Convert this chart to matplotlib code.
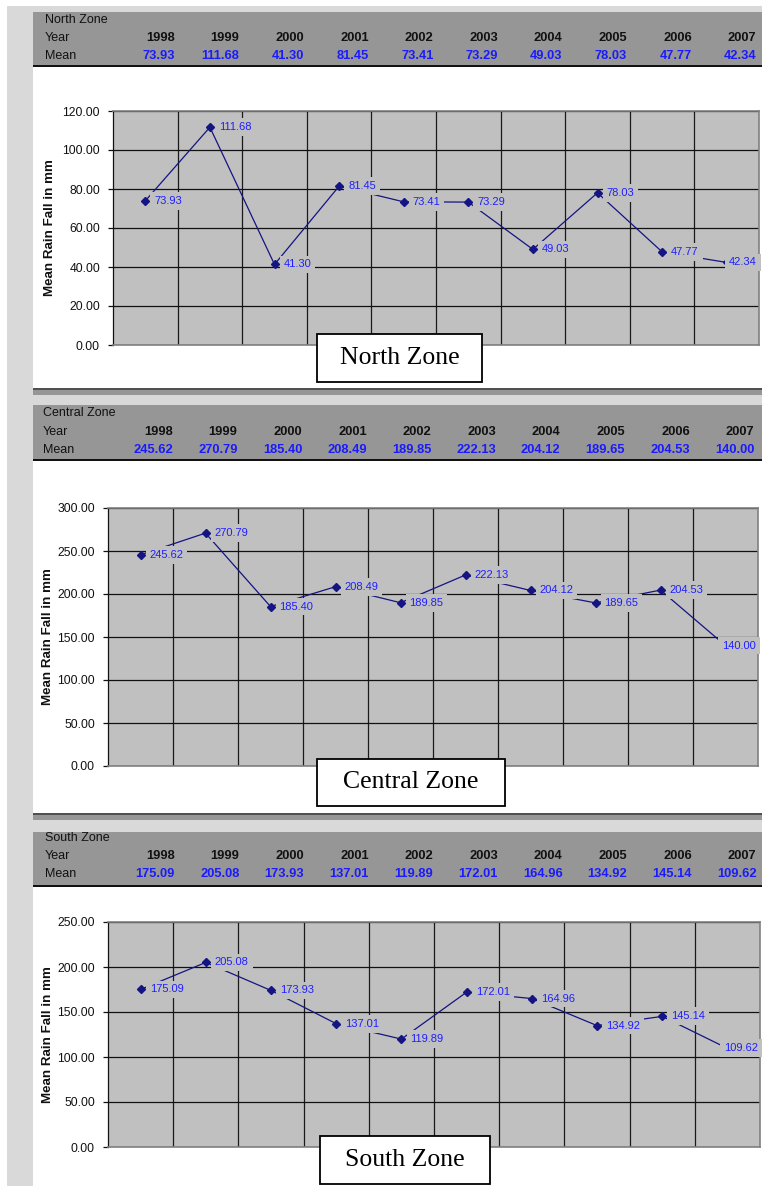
"""
Mean rainfall per zone, 1998-2007: a header strip with the yearly means
above a line chart for each of the North, Central and South zones.
"""
import matplotlib
matplotlib.use("Agg")
import matplotlib.pyplot as plt
from matplotlib.patches import Rectangle
from matplotlib.ticker import FixedLocator, MultipleLocator

plt.rcParams["font.family"] = ["Liberation Sans", "DejaVu Sans"]

# ── Data ──────────────────────────────────────────────────────────────────────

years = ["1998", "1999", "2000", "2001", "2002",
         "2003", "2004", "2005", "2006", "2007"]

north_mean   = [73.93, 111.68, 41.30, 81.45, 73.41, 73.29, 49.03, 78.03, 47.77, 42.34]
central_mean = [245.62, 270.79, 185.40, 208.49, 189.85, 222.13, 204.12, 189.65, 204.53, 140.00]
south_mean   = [175.09, 205.08, 173.93, 137.01, 119.89, 172.01, 164.96, 134.92, 145.14, 109.62]

zone_names = ["North Zone", "Central Zone", "South Zone"]

# ── Layout (pixels of the 762 x 1186 picture) ─────────────────────────────────

W, H = 762, 1186
DPI  = 100

PANEL_BG   = "#c0c0c0"
HEADER_BG  = "#969696"
STRIP_BG   = "#d9d9d9"
LINE_COL   = "#141482"
LABEL_COL  = "#1f1fff"

# header top, text rows, header line, axes box, y range/step, title box, ylabel x
PANELS = [
    dict(top=12,  rows=(20, 38, 56),    line=66,  name_x=45, col0=175,
         ax=(113, 759, 111, 345),  ymax=120, step=20,
         box=(317, 482, 334, 382), ylab_x=50),
    dict(top=405, rows=(413, 432, 450), line=460, name_x=43, col0=173,
         ax=(108, 758, 508, 766),  ymax=300, step=50,
         box=(317, 505, 759, 806), ylab_x=48),
    dict(top=832, rows=(838, 856, 874), line=886, name_x=45, col0=175,
         ax=(108, 760, 922, 1147), ymax=250, step=50,
         box=(320, 490, 1136, 1184), ylab_x=48),
]
COL_STEP = 64.6
SEPARATORS = [388, 813]


def fx(x):
    return x / W


def fy(y):
    return 1 - y / H


def rect(fig, x0, x1, y0, y1, **kw):
    fig.patches.append(Rectangle((fx(x0), fy(y1)), fx(x1) - fx(x0), fy(y0) - fy(y1),
                                 transform=fig.transFigure, **kw))


# ── Drawing ───────────────────────────────────────────────────────────────────

def draw_background(fig):
    rect(fig, 7, 33, 6, H, color=STRIP_BG, lw=0)
    rect(fig, 7, W, 6, 12, color=STRIP_BG, lw=0)
    for y in SEPARATORS:
        rect(fig, 33, W, y, y + 2, color="#505050", lw=0)
        rect(fig, 33, W, y + 2, y + 7, color=HEADER_BG, lw=0)
        rect(fig, 33, W, y + 7, y + 19, color=STRIP_BG, lw=0)


def draw_header(fig, p, name, values):
    rect(fig, 33, W, p["top"], p["line"], color=HEADER_BG, lw=0)
    rect(fig, 33, W, p["line"] - 1, p["line"] + 1, color="#111111", lw=0)

    r0, r1, r2 = p["rows"]
    fig.text(fx(p["name_x"]), fy(r0), name, fontsize=9, va="center", color="#111111")
    fig.text(fx(p["name_x"]), fy(r1), "Year", fontsize=9, va="center", color="#111111")
    fig.text(fx(p["name_x"]), fy(r2), "Mean", fontsize=9, va="center", color="#111111")
    for i, (yr, v) in enumerate(zip(years, values)):
        x = fx(p["col0"] + i * COL_STEP)
        fig.text(x, fy(r1), yr, fontsize=9.3, fontweight="bold", ha="right",
                 va="center", color="#111111")
        fig.text(x, fy(r2), f"{v:.2f}", fontsize=9.3, fontweight="bold", ha="right",
                 va="center", color="#1a1aff")


def draw_chart(fig, p, name, values):
    x0, x1, y0, y1 = p["ax"]
    ax = fig.add_axes([fx(x0), fy(y1), fx(x1) - fx(x0), fy(y0) - fy(y1)])
    ax.set_facecolor(PANEL_BG)

    xs = list(range(len(values)))
    ax.plot(xs, values, color=LINE_COL, lw=0.9, zorder=2)
    ax.plot(xs, values, ls="none", marker="D", ms=4.2, color=LINE_COL, zorder=3)

    bbox = dict(boxstyle="square,pad=0.35", fc=PANEL_BG, ec="none")
    for i, v in enumerate(values):
        if i == len(values) - 1:
            ax.annotate(f"{v:.2f}", xy=(1, v), xycoords=("axes fraction", "data"),
                        xytext=(-1.5, 0), textcoords="offset points", ha="right",
                        va="center", fontsize=8, color=LABEL_COL, bbox=bbox,
                        zorder=4, annotation_clip=False)
        else:
            ax.annotate(f"{v:.2f}", xy=(i, v), xytext=(6.5, 0),
                        textcoords="offset points", ha="left", va="center",
                        fontsize=8, color=LABEL_COL, bbox=bbox, zorder=4,
                        annotation_clip=False)

    ax.set_xlim(-0.5, len(values) - 0.5)
    ax.set_ylim(0, p["ymax"])
    ax.yaxis.set_major_locator(MultipleLocator(p["step"]))
    ax.yaxis.set_major_formatter(lambda v, _: f"{v:.2f}")
    ax.set_xticks([])
    ax.xaxis.set_minor_locator(FixedLocator([k + 0.5 for k in range(len(values) - 1)]))
    ax.tick_params(axis="x", which="minor", length=0)
    ax.tick_params(axis="y", direction="out", length=3.6, width=0.9, pad=5.8,
                   labelsize=8.7, colors="#111111")
    ax.grid(axis="y", which="major", color="#111111", lw=0.9, zorder=1)
    ax.grid(axis="x", which="minor", color="#1a1a1a", lw=0.9, zorder=1)
    ax.set_axisbelow(True)

    for side in ("top", "right", "bottom"):
        ax.spines[side].set_color("#808080")
        ax.spines[side].set_linewidth(1.2)
    ax.spines["left"].set_color("#111111")
    ax.spines["left"].set_linewidth(0.9)

    fig.text(fx(p["ylab_x"]), fy((y0 + y1) / 2), "Mean Rain Fall in mm",
             rotation=90, ha="center", va="center", fontsize=9.6,
             fontweight="bold", color="#111111")

    bx0, bx1, by0, by1 = p["box"]
    rect(fig, bx0, bx1, by0, by1, fc="white", ec="black", lw=1.3, zorder=5)
    fig.text(fx((bx0 + bx1) / 2), fy((by0 + by1) / 2), name,
             family=["Liberation Serif", "DejaVu Serif"], fontsize=18.5,
             ha="center", va="center", zorder=6)


# ── Main ──────────────────────────────────────────────────────────────────────

def main():
    fig = plt.figure(figsize=(W / DPI, H / DPI), dpi=DPI, facecolor="white")
    draw_background(fig)

    for p, name, values in zip(PANELS, zone_names,
                               [north_mean, central_mean, south_mean]):
        draw_header(fig, p, name, values)
        draw_chart(fig, p, name, values)

    fig.savefig("out.png", dpi=DPI, facecolor="white")


if __name__ == "__main__":
    main()
